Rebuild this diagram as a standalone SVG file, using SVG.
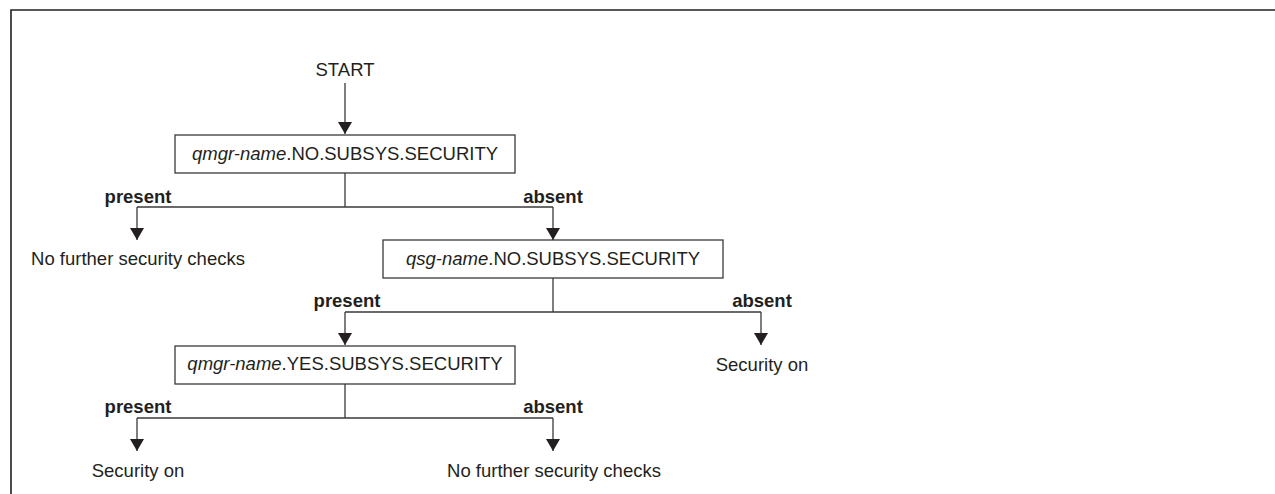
<svg xmlns="http://www.w3.org/2000/svg" width="1275" height="494" viewBox="0 0 1275 494">
  <style>
    text { font-family: "Liberation Sans", Arial, sans-serif; font-size: 18.5px; fill: #231f20; }
    .b { font-weight: bold; }
    .i { font-style: italic; }
    .box { fill: #ffffff; stroke: #3a3a3a; stroke-width: 1.3; }
    .ln { fill: none; stroke: #3a3a3a; stroke-width: 1.3; }
  </style>
  <defs>
    <marker id="arr" markerUnits="userSpaceOnUse" markerWidth="13" markerHeight="14" refX="12" refY="7" orient="auto" viewBox="0 0 13 14">
      <path d="M0,0 L12,7 L0,14 Z" fill="#231f20"/>
    </marker>
  </defs>
  <rect width="1275" height="494" fill="#ffffff"/>
  <path d="M11,494 L11,10 L1275,10" fill="none" stroke="#231f20" stroke-width="1.6"/>

  <g id="start">
    <text x="345" y="76" text-anchor="middle">START</text>
  </g>

  <g id="box1">
    <rect class="box" x="175" y="135" width="340" height="38"/>
    <text x="345" y="160" text-anchor="middle"><tspan class="i">qmgr-name</tspan>.NO.SUBSYS.SECURITY</text>
  </g>
  <g id="box2">
    <rect class="box" x="383" y="240" width="340" height="38"/>
    <text x="553" y="265" text-anchor="middle"><tspan class="i">qsg-name</tspan>.NO.SUBSYS.SECURITY</text>
  </g>
  <g id="box3">
    <rect class="box" x="175" y="346" width="340" height="38"/>
    <text x="345" y="370" text-anchor="middle"><tspan class="i">qmgr-name</tspan>.YES.SUBSYS.SECURITY</text>
  </g>

  <g id="end1"><text x="138" y="265" text-anchor="middle">No further security checks</text></g>
  <g id="end2"><text x="762" y="371" text-anchor="middle">Security on</text></g>
  <g id="end3"><text x="138" y="477" text-anchor="middle">Security on</text></g>
  <g id="end4"><text x="554" y="477" text-anchor="middle">No further security checks</text></g>

  <g id="connectors">
    <line class="ln" x1="345" y1="83" x2="345" y2="134" marker-end="url(#arr)"/>
    <path class="ln" d="M345,173 V207 M137,207 H553"/>
    <line class="ln" x1="137" y1="207" x2="137" y2="240" marker-end="url(#arr)"/>
    <line class="ln" x1="553" y1="207" x2="553" y2="240" marker-end="url(#arr)"/>
    <path class="ln" d="M553,278 V312 M345,312 H761"/>
    <line class="ln" x1="345" y1="312" x2="345" y2="345" marker-end="url(#arr)"/>
    <line class="ln" x1="761" y1="312" x2="761" y2="345" marker-end="url(#arr)"/>
    <path class="ln" d="M345,384 V418 M137,418 H553"/>
    <line class="ln" x1="137" y1="418" x2="137" y2="451" marker-end="url(#arr)"/>
    <line class="ln" x1="553" y1="418" x2="553" y2="451" marker-end="url(#arr)"/>
    <text class="b" x="138" y="203" text-anchor="middle">present</text>
    <text class="b" x="553" y="203" text-anchor="middle">absent</text>
    <text class="b" x="347" y="307" text-anchor="middle">present</text>
    <text class="b" x="762" y="307" text-anchor="middle">absent</text>
    <text class="b" x="138" y="413" text-anchor="middle">present</text>
    <text class="b" x="553" y="413" text-anchor="middle">absent</text>
  </g>
</svg>
